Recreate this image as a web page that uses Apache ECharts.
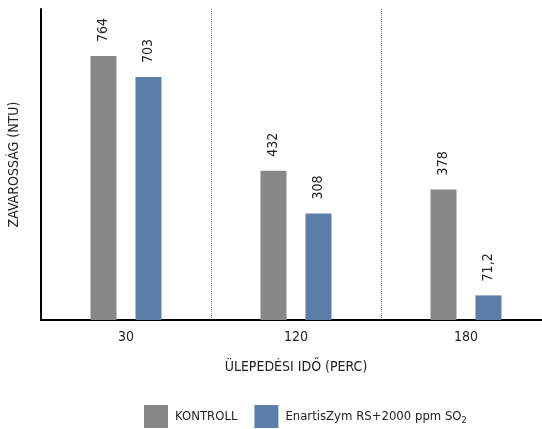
<!DOCTYPE html>
<html><head><meta charset="utf-8">
<script src="https://cdn.jsdelivr.net/npm/echarts@6/dist/echarts.min.js"></script>
<style>html,body{margin:0;padding:0;background:#fff}#c{width:542px;height:429px}</style>
</head><body><div id="c"></div>
<script>
const categories = ['30', '120', '180'];
const kontroll = [764, 432, 378];
const enartis = [703, 308, 71.2];
const seriesNames = ['KONTROLL', 'EnartisZym RS+2000 ppm SO2'];
const FONT = "'DejaVu Sans Condensed', 'Liberation Sans Narrow', sans-serif";
const fmt = p => String(p.value).replace('.', ',');
const chart = echarts.init(document.getElementById('c'));
const lbl = {show:true, position:'top', rotate:90, align:'left', verticalAlign:'middle', distance:14,
  formatter: fmt, color:'#222', fontSize:14, fontFamily:FONT};
chart.setOption({
  animation:false,
  grid:{left:41, top:9, bottom:109, width:510, outerBoundsMode:'none', containLabel:false},
  legend:{bottom:1, left:144, padding:0, itemWidth:24, itemHeight:23, itemGap:17, icon:'rect',
    textStyle:{color:'#222', fontSize:13, fontFamily:FONT, padding:[0,0,0,2],
      rich:{a:{fontSize:13, fontFamily:FONT, color:'#222'}, sub:{fontSize:9, fontFamily:FONT, color:'#222', padding:[9,0,0,0]}}},
    formatter: n => n === seriesNames[1] ? '{a|EnartisZym RS+2000 ppm SO}{sub|2}' : n,
    data: seriesNames},
  xAxis:{type:'category', data:categories, name:'ÜLEPEDÉSI IDŐ (PERC)', nameLocation:'middle', nameGap:40,
    nameTextStyle:{color:'#222', fontSize:14, fontFamily:FONT},
    axisLine:{lineStyle:{color:'#000', width:2}}, axisTick:{show:false},
    axisLabel:{color:'#222', fontSize:14, fontFamily:FONT, margin:10},
    splitLine:{show:true, lineStyle:{color:'#777', type:'dotted', width:1}}},
  yAxis:{type:'value', min:0, max:900, name:'ZAVAROSSÁG (NTU)', nameLocation:'middle', nameGap:20,
    nameTextStyle:{color:'#222', fontSize:14, fontFamily:FONT},
    axisLine:{show:true, lineStyle:{color:'#000', width:2}}, axisTick:{show:false}, axisLabel:{show:false},
    splitLine:{show:false}},
  series:[
    {name:seriesNames[0], type:'bar', data:kontroll, barWidth:26, barGap:'73%', itemStyle:{color:'#878787'}, label:lbl},
    {name:seriesNames[1], type:'bar', data:enartis, barWidth:26, itemStyle:{color:'#5a7ea8'}, label:lbl}
  ]
});
</script></body></html>
